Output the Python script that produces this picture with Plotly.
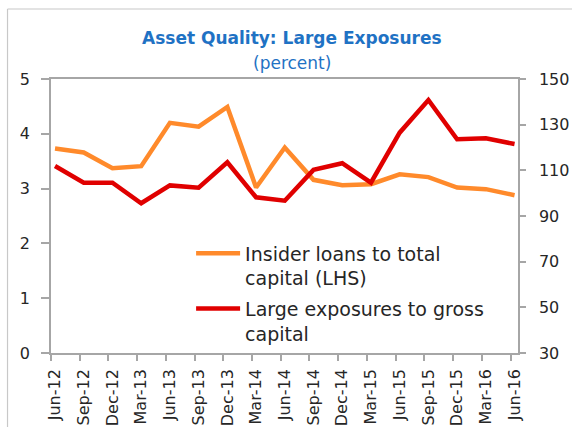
import plotly.graph_objects as go

categories = ["Jun-12", "Sep-12", "Dec-12", "Mar-13", "Jun-13", "Sep-13", "Dec-13",
              "Mar-14", "Jun-14", "Sep-14", "Dec-14", "Mar-15", "Jun-15", "Sep-15",
              "Dec-15", "Mar-16", "Jun-16"]
insider_loans = [3.73, 3.66, 3.37, 3.41, 4.20, 4.13, 4.49, 3.02, 3.75, 3.16, 3.06,
                 3.08, 3.26, 3.21, 3.02, 2.99, 2.88]
large_exposures = [111.9, 104.6, 104.6, 95.6, 103.4, 102.4, 113.5, 98.2, 96.7, 110.2,
                   113.1, 104.6, 126.5, 140.8, 123.6, 124.0, 121.5]
left_ticks = [0, 1, 2, 3, 4, 5]
right_ticks = [30, 50, 70, 90, 110, 130, 150]

xs = list(range(len(categories)))
FONT = "DejaVu Sans"
AX = "#A6A6A6"
TXT = "#262626"
BLUE = "#1F72C4"

fig = go.Figure()
fig.add_trace(go.Scatter(x=xs, y=insider_loans, mode="lines", legendgroup="a",
                         name="Insider loans to total<br>capital (LHS)",
                         line=dict(color="#FF8A2B", width=4.5)))
fig.add_trace(go.Scatter(x=xs, y=large_exposures, mode="lines", yaxis="y2",
                         legendgroup="b",
                         name="Large exposures to gross<br>capital",
                         line=dict(color="#E00000", width=4.5)))

fig.update_layout(
    width=572, height=427,
    margin=dict(l=51, r=54, t=79, b=74, autoexpand=False),
    paper_bgcolor="white", plot_bgcolor="white",
    font=dict(family=FONT, size=16, color=TXT),
    showlegend=True,
    legend=dict(x=0.30, y=0.433, xanchor="left", yanchor="top",
                bgcolor="rgba(0,0,0,0)", font=dict(size=19, color=TXT),
                valign="top", tracegroupgap=3, itemwidth=44),
    xaxis=dict(range=[-0.14, 16.12], tickmode="array", tickvals=xs, ticktext=categories,
               tickangle=-90, ticks="", showgrid=False, zeroline=False, automargin=False,
               showline=True, linecolor=AX, linewidth=1.5, mirror=True,
               tickfont=dict(size=16, color=TXT), ticklabelstandoff=8,
               minor=dict(tickmode="array", tickvals=[i - 0.14 for i in xs],
                          ticks="outside", ticklen=6, tickcolor=AX, tickwidth=1.5,
                          showgrid=False)),
    yaxis=dict(range=[0, 5], tickmode="array", tickvals=left_ticks, showgrid=False,
               zeroline=False, showline=True, linecolor=AX, linewidth=1.5, automargin=False,
               ticks="outside", ticklen=8, tickcolor=AX, tickwidth=1.5,
               tickfont=dict(size=16, color=TXT), ticklabelstandoff=8),
    yaxis2=dict(range=[30, 150], tickmode="array", tickvals=right_ticks, overlaying="y",
                side="right", showgrid=False, zeroline=False, showline=True,
                automargin=False,
                linecolor=AX, linewidth=1.5, ticks="outside", ticklen=6,
                tickcolor=AX, tickwidth=1.5, tickfont=dict(size=16, color=TXT),
                ticklabelstandoff=10),
    annotations=[
        dict(text="<b>Asset Quality: Large Exposures</b>", xref="paper", yref="paper",
             x=0.517, y=1.15, xanchor="center", yanchor="middle", showarrow=False,
             font=dict(family=FONT, size=17, color=BLUE)),
        dict(text="(percent)", xref="paper", yref="paper", x=0.517, y=1.058,
             xanchor="center", yanchor="middle", showarrow=False,
             font=dict(family=FONT, size=17, color=BLUE)),
    ],
    shapes=[
        dict(type="line", xref="paper", yref="paper", x0=-0.0931, x1=-0.0931,
             y0=1.2555, y1=-0.3, line=dict(color="#C8C8C8", width=1.2)),
        dict(type="line", xref="paper", yref="paper", x0=-0.0931, x1=1.2,
             y0=1.2555, y1=1.2555, line=dict(color="#C8C8C8", width=1.2)),
    ],
)

fig.write_html("out.html", config={"displayModeBar": False},
               post_script="document.body.style.margin='0';document.body.style.overflow='hidden';")
